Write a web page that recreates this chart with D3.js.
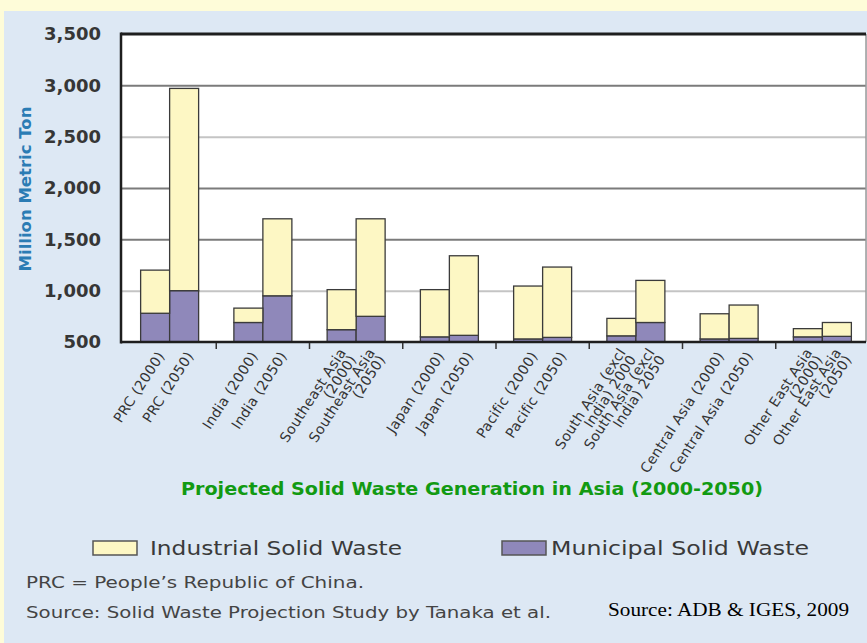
<!DOCTYPE html>
<html>
<head>
<meta charset="utf-8">
<script src="https://cdn.jsdelivr.net/npm/d3@7/dist/d3.min.js"></script>
<style>
  html, body { margin: 0; padding: 0; background: #fefcd9; }
  svg { display: block; }
</style>
</head>
<body>
<svg id="chart" width="867" height="643"></svg>
<script>
// ---------- data ----------
const groups = ["PRC", "India", "Southeast Asia", "Japan", "Pacific",
                "South Asia (excl India)", "Central Asia", "Other East Asia"];
const years = ["2000", "2050"];
const labels = [
  "PRC (2000)", "PRC (2050)",
  "India (2000)", "India (2050)",
  "Southeast Asia\n(2000)", "Southeast Asia\n(2050)",
  "Japan (2000)", "Japan (2050)",
  "Pacific (2000)", "Pacific (2050)",
  "South Asia (excl\nIndia) 2000", "South Asia (excl\nIndia) 2050",
  "Central Asia (2000)", "Central Asia (2050)",
  "Other East Asia\n(2000)", "Other East Asia\n(2050)"
];
const municipal  = [780, 1000, 690, 950, 620, 750, 550, 565, 530, 545, 560, 690, 530, 535, 550, 555];
const industrial = [420, 1970, 140, 750, 390, 950, 460, 775, 515, 685, 170, 410, 245, 325, 80, 135];
const yTicks = [500, 1000, 1500, 2000, 2500, 3000, 3500];
const seriesNames = ["Municipal Solid Waste", "Industrial Solid Waste"];

// ---------- setup ----------
const svg = d3.select("#chart");
const W = 867, H = 643;
const plot = { left: 121, top: 34, right: 866, bottom: 342 };
const colors = { municipal: "#8f88ba", industrial: "#fdf7c4" };

// background panel
svg.append("rect").attr("x", 0).attr("y", 0).attr("width", W).attr("height", H).attr("fill", "#fefcd9");
svg.append("rect").attr("x", 4).attr("y", 11).attr("width", W - 4).attr("height", H - 11).attr("fill", "#dde8f4");
svg.append("rect").attr("x", plot.left).attr("y", plot.top)
   .attr("width", plot.right - plot.left).attr("height", plot.bottom - plot.top).attr("fill", "#ffffff");

const rows = labels.map((l, i) => ({
  label: l, group: groups[Math.floor(i / 2)], year: years[i % 2],
  municipal: municipal[i], industrial: industrial[i]
}));

const x0 = d3.scaleBand().domain(groups).range([123, 869]).paddingInner(0).paddingOuter(0);
const x1 = d3.scaleBand().domain(years).range([0, x0.bandwidth()]).paddingInner(0).paddingOuter(0.608);
const y = d3.scaleLinear().domain([500, 3500]).range([plot.bottom, plot.top]).clamp(true);

// gridlines
const grid = svg.append("g").attr("transform", `translate(${plot.left},0)`)
  .call(d3.axisLeft(y).tickValues(yTicks.filter(t => t > 500 && t < 3500))
          .tickSize(-(plot.right - plot.left)).tickFormat(""));
grid.select(".domain").remove();
grid.selectAll("line")
  .attr("stroke", d => (d === 2500 || d === 1000) ? "#c4c4c4" : "#7b7b7b")
  .attr("stroke-width", 2);

// bars
const stack = d3.stack().keys(["municipal", "industrial"]);
const stacked = stack(rows);
// base from the axis minimum (domain starts at 500)
stacked[0].forEach(s => { s[0] = 500; });

svg.append("g").selectAll("g")
  .data(stacked).join("g")
  .attr("fill", d => colors[d.key])
  .selectAll("rect")
  .data(d => d).join("rect")
  .attr("x", d => x0(d.data.group) + x1(d.data.year))
  .attr("width", x1.bandwidth())
  .attr("y", d => y(d[1]))
  .attr("height", d => y(d[0]) - y(d[1]))
  .attr("stroke", "#3b3b3b")
  .attr("stroke-width", 1.3);

// frame
svg.append("line").attr("x1", plot.right).attr("x2", plot.right).attr("y1", plot.top).attr("y2", plot.bottom)
   .attr("stroke", "#9a9a9a").attr("stroke-width", 1.5);
svg.append("line").attr("x1", plot.left).attr("x2", plot.right).attr("y1", plot.top).attr("y2", plot.top)
   .attr("stroke", "#1e1e1e").attr("stroke-width", 3);
svg.append("line").attr("x1", plot.left).attr("x2", plot.left).attr("y1", plot.top - 1.5).attr("y2", plot.bottom + 1.5)
   .attr("stroke", "#1e1e1e").attr("stroke-width", 2.5);

// y axis labels
const yAxis = svg.append("g").attr("transform", `translate(${plot.left},0)`)
  .call(d3.axisLeft(y).tickValues(yTicks).tickFormat(d3.format(",")).tickSize(0).tickPadding(20));
yAxis.select(".domain").remove();
yAxis.selectAll("text")
  .attr("font-family", "DejaVu Sans, sans-serif")
  .attr("font-weight", "bold")
  .attr("font-size", 18)
  .attr("fill", "#363636");

// x axis
const xAxis = svg.append("g").attr("transform", `translate(0,${plot.bottom})`)
  .call(d3.axisBottom(x0).tickValues([]).tickSize(0));
xAxis.select(".domain").attr("stroke", "#1e1e1e").attr("stroke-width", 2.5)
  .attr("d", `M${plot.left},0H${plot.right}`);
// group separator ticks
svg.append("g").selectAll("line")
  .data(groups.slice(1)).join("line")
  .attr("x1", d => x0(d)).attr("x2", d => x0(d))
  .attr("y1", plot.bottom + 1).attr("y2", plot.bottom + 7)
  .attr("stroke", "#333").attr("stroke-width", 1.5);

// rotated category labels
const lab = svg.append("g").selectAll("text")
  .data(rows).join("text")
  .attr("transform", d => `translate(${x0(d.group) + x1(d.year) + x1.bandwidth() / 2 + 6},${plot.bottom + 11}) rotate(-57)`)
  .attr("text-anchor", "end")
  .attr("font-family", "DejaVu Sans, sans-serif")
  .attr("font-size", 14)
  .attr("letter-spacing", 0.3)
  .attr("fill", "#333");
lab.each(function(d) {
  const lines = d.label.split("\n");
  const t = d3.select(this);
  const lh = 12.5;
  lines.forEach((ln, i) => {
    t.append("tspan").attr("x", 0)
      .attr("dy", i === 0 ? (4.9 - (lines.length - 1) * lh / 2) : lh)
      .text(ln);
  });
});

// y title
svg.append("text")
  .attr("transform", `translate(25,${189}) rotate(-90)`)
  .attr("text-anchor", "middle").attr("dy", "0.35em")
  .attr("font-family", "DejaVu Sans, sans-serif").attr("font-weight", "bold")
  .attr("font-size", 16.5).attr("fill", "#2b7cb4")
  .text("Million Metric Ton");

// helper to match text width
function fit(sel, w) {
  sel.attr("textLength", w).attr("lengthAdjust", "spacingAndGlyphs");
  return sel;
}

// chart title
fit(svg.append("text")
  .attr("x", 181).attr("y", 495)
  .attr("font-family", "DejaVu Sans, sans-serif").attr("font-weight", "bold")
  .attr("font-size", 17).attr("fill", "#129a12")
  .text("Projected Solid Waste Generation in Asia (2000-2050)"), 582);

// legend
const legendItems = [
  { name: seriesNames[1], key: "industrial", sx: 93, tx: 150, tw: 252 },
  { name: seriesNames[0], key: "municipal", sx: 502, tx: 551, tw: 258 }
];
legendItems.forEach(it => {
  svg.append("rect").attr("x", it.sx).attr("y", 541).attr("width", 44).attr("height", 14)
    .attr("fill", colors[it.key]).attr("stroke", "#555").attr("stroke-width", 1.5);
  fit(svg.append("text").attr("x", it.tx).attr("y", 555)
    .attr("font-family", "DejaVu Sans, sans-serif").attr("font-size", 19.5)
    .attr("fill", "#3a3a3a").text(it.name), it.tw);
});

// notes
fit(svg.append("text").attr("x", 26).attr("y", 588)
  .attr("font-family", "DejaVu Sans, sans-serif").attr("font-size", 15)
  .attr("fill", "#444").text("PRC = People\u2019s Republic of China."), 338);
fit(svg.append("text").attr("x", 26).attr("y", 618)
  .attr("font-family", "DejaVu Sans, sans-serif").attr("font-size", 15)
  .attr("fill", "#444").text("Source: Solid Waste Projection Study by Tanaka et al."), 525);
fit(svg.append("text").attr("x", 608).attr("y", 616)
  .attr("font-family", "Liberation Serif, Times New Roman, serif").attr("font-size", 18)
  .attr("fill", "#000").text("Source: ADB & IGES, 2009"), 241);
</script>
</body>
</html>
